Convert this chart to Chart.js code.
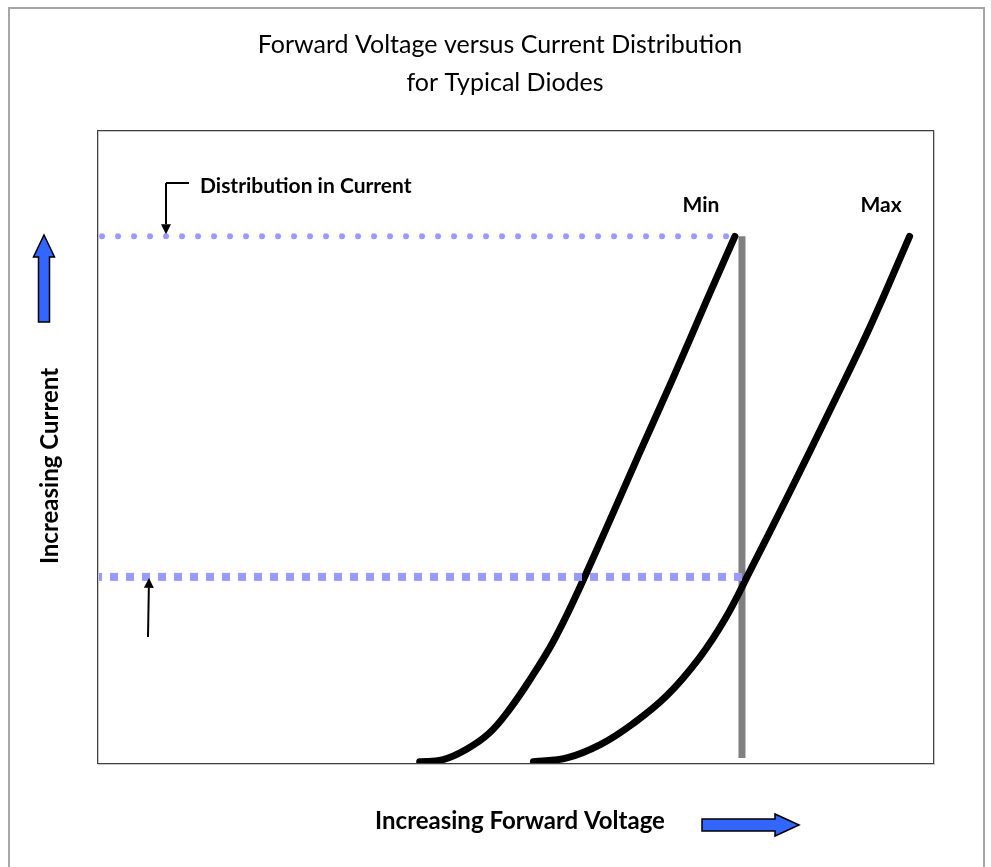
<!DOCTYPE html>
<html>
<head>
<meta charset="utf-8">
<script src="https://cdn.jsdelivr.net/npm/chart.js@4"></script>
<style>
  html, body { margin: 0; padding: 0; background: #fff; }
  #wrap { width: 991px; height: 867px; }
</style>
</head>
<body>
<div id="wrap"><canvas id="diodeChart" width="991" height="867"></canvas></div>
<script>
// forward voltage (x) / current (y) in relative units, 0-100
let minCurveX = [38.6, 41.3, 44.1, 46.9, 49.3, 52.0, 54.5, 56.9, 61.0, 64.9, 68.9, 72.9, 76.3];
let minCurveY = [0.2, 0.5, 2.1, 4.7, 8.4, 13.6, 19.0, 25.3, 37.3, 49.0, 60.8, 73.0, 83.2];

let maxCurveX = [52.2, 56.2, 60.2, 64.1, 68.2, 72.1, 75.1, 78.1, 82.9, 87.7, 92.5, 97.2];
let maxCurveY = [0.2, 0.8, 2.9, 6.2, 10.7, 16.7, 22.7, 30.3, 42.9, 55.8, 69.0, 83.2];

// distribution in current: top and bottom levels, and the fixed voltage marker
let currentLevels = [83.2, 29.4];
let voltageMarker = 77.15;
let markerSpan = [0.8, 83.2];

let titleLines = ["Forward Voltage versus Current Distribution", "for Typical Diodes"];
let curveNames = ["Min", "Max"];
let xTitle = "Increasing Forward Voltage";
let yTitle = "Increasing Current";
let noteText = "Distribution in Current";

function toPoints(xs, ys){
    let pts = [];
    xs.forEach((x, i) => { pts.push({x: x, y: ys[i]}); });
    return pts;
}

function arrowUp(ctx, cx, tipY, baseY, headW, headH, shaftW){
    ctx.beginPath();
    ctx.moveTo(cx, tipY);
    ctx.lineTo(cx + headW / 2, tipY + headH);
    ctx.lineTo(cx + shaftW / 2, tipY + headH);
    ctx.lineTo(cx + shaftW / 2, baseY);
    ctx.lineTo(cx - shaftW / 2, baseY);
    ctx.lineTo(cx - shaftW / 2, tipY + headH);
    ctx.lineTo(cx - headW / 2, tipY + headH);
    ctx.closePath();
    ctx.fillStyle = "#3366ff";
    ctx.fill();
    ctx.lineWidth = 1.5;
    ctx.strokeStyle = "#000";
    ctx.stroke();
}

function arrowRight(ctx, cy, startX, tipX, headW, headL, shaftW){
    ctx.beginPath();
    ctx.moveTo(tipX, cy);
    ctx.lineTo(tipX - headL, cy - headW / 2);
    ctx.lineTo(tipX - headL, cy - shaftW / 2);
    ctx.lineTo(startX, cy - shaftW / 2);
    ctx.lineTo(startX, cy + shaftW / 2);
    ctx.lineTo(tipX - headL, cy + shaftW / 2);
    ctx.lineTo(tipX - headL, cy + headW / 2);
    ctx.closePath();
    ctx.fillStyle = "#3366ff";
    ctx.fill();
    ctx.lineWidth = 1.5;
    ctx.strokeStyle = "#000";
    ctx.stroke();
}

function thinArrow(ctx, x0, y0, x1, y1){
    let ang = Math.atan2(y1 - y0, x1 - x0);
    let len = 10, half = 5;
    let bx = x1 - Math.cos(ang) * len, by = y1 - Math.sin(ang) * len;
    ctx.beginPath();
    ctx.moveTo(x0, y0);
    ctx.lineTo(bx, by);
    ctx.lineWidth = 2;
    ctx.strokeStyle = "#000";
    ctx.stroke();
    ctx.beginPath();
    ctx.moveTo(x1, y1);
    ctx.lineTo(bx - Math.sin(ang) * half, by + Math.cos(ang) * half);
    ctx.lineTo(bx + Math.sin(ang) * half, by - Math.cos(ang) * half);
    ctx.closePath();
    ctx.fillStyle = "#000";
    ctx.fill();
}

const decorations = {
    id: "decorations",
    beforeDraw(chart){
        let ctx = chart.ctx;
        ctx.save();
        ctx.fillStyle = "#fff";
        ctx.fillRect(0, 0, chart.width, chart.height);
        // outer frame
        ctx.strokeStyle = "#a6a6a6";
        ctx.lineWidth = 2;
        ctx.strokeRect(9, 8, 975, 880);
        ctx.restore();
    },
    afterDraw(chart){
        let ctx = chart.ctx;
        let area = chart.chartArea;
        let ys = chart.scales.y;
        ctx.save();

        // plot frame
        ctx.strokeStyle = "#c8c8c8";
        ctx.lineWidth = 1;
        ctx.strokeRect(area.left + 1.5, area.top + 1.5, area.right - area.left, area.bottom - area.top);
        ctx.strokeStyle = "#404040";
        ctx.strokeRect(area.left + 0.5, area.top + 0.5, area.right - area.left, area.bottom - area.top);

        // title
        ctx.fillStyle = "#000";
        ctx.textAlign = "center";
        ctx.textBaseline = "middle";
        ctx.font = "25px Lato";
        ctx.fillText(titleLines[0], 500, 45);
        ctx.fillText(titleLines[1], 505, 83);

        // curve labels
        ctx.font = "bold 21px Lato";
        ctx.textBaseline = "alphabetic";
        ctx.fillText(curveNames[0], 701, 212);
        ctx.fillText(curveNames[1], 881, 212);

        // note with leader
        ctx.textAlign = "left";
        ctx.fillText(noteText, 200, 193);
        ctx.beginPath();
        ctx.moveTo(166, 183);
        ctx.lineTo(189, 183);
        ctx.lineWidth = 2;
        ctx.strokeStyle = "#000";
        ctx.stroke();
        thinArrow(ctx, 166, 183, 166, ys.getPixelForValue(currentLevels[0]) - 2);
        thinArrow(ctx, 148, 637, 149, ys.getPixelForValue(currentLevels[1]) + 1);

        // axis titles
        ctx.font = "bold 24px Lato";
        ctx.textAlign = "center";
        ctx.fillText(xTitle, 520, 829);
        ctx.save();
        ctx.translate(58, 466);
        ctx.rotate(-Math.PI / 2);
        ctx.fillText(yTitle, 0, 0);
        ctx.restore();

        // blue direction arrows
        arrowUp(ctx, 44, 235, 322, 21, 22, 11);
        arrowRight(ctx, 825, 702, 799, 22, 24, 12);

        ctx.restore();
    }
};

new Chart("diodeChart", {
    type: "scatter",
    data: {
        datasets: [
            {
                label: "top level",
                data: [{x: 0.6, y: currentLevels[0]}, {x: voltageMarker, y: currentLevels[0]}],
                showLine: true,
                borderColor: "#9999ff",
                borderWidth: 6,
                borderDash: [0, 16],
                borderCapStyle: "round",
                pointRadius: 0
            },
            {
                label: "bottom level",
                data: [{x: -0.36, y: currentLevels[1]}, {x: voltageMarker, y: currentLevels[1]}],
                showLine: true,
                borderColor: "#9999ff",
                borderWidth: 8,
                borderDash: [8, 8],
                borderCapStyle: "butt",
                pointRadius: 0
            },
            {
                label: curveNames[0],
                data: toPoints(minCurveX, minCurveY),
                showLine: true,
                borderColor: "#000",
                borderWidth: 7,
                borderCapStyle: "round",
                borderJoinStyle: "round",
                tension: 0.4,
                pointRadius: 0
            },
            {
                label: curveNames[1],
                data: toPoints(maxCurveX, maxCurveY),
                showLine: true,
                borderColor: "#000",
                borderWidth: 7,
                borderCapStyle: "round",
                borderJoinStyle: "round",
                tension: 0.4,
                pointRadius: 0
            },
            {
                label: "voltage marker",
                data: [{x: voltageMarker, y: markerSpan[0]}, {x: voltageMarker, y: markerSpan[1]}],
                showLine: true,
                borderColor: "#808080",
                borderWidth: 7,
                borderCapStyle: "butt",
                pointRadius: 0
            }
        ]
    },
    options: {
        responsive: false,
        animation: false,
        layout: {
            padding: {left: 97, right: 58, top: 130, bottom: 104}
        },
        scales: {
            x: {type: "linear", min: 0, max: 100, display: false},
            y: {type: "linear", min: 0, max: 100, display: false}
        },
        plugins: {
            legend: {display: false},
            tooltip: {enabled: false},
            title: {display: false}
        }
    },
    plugins: [decorations]
});
</script>
</body>
</html>
